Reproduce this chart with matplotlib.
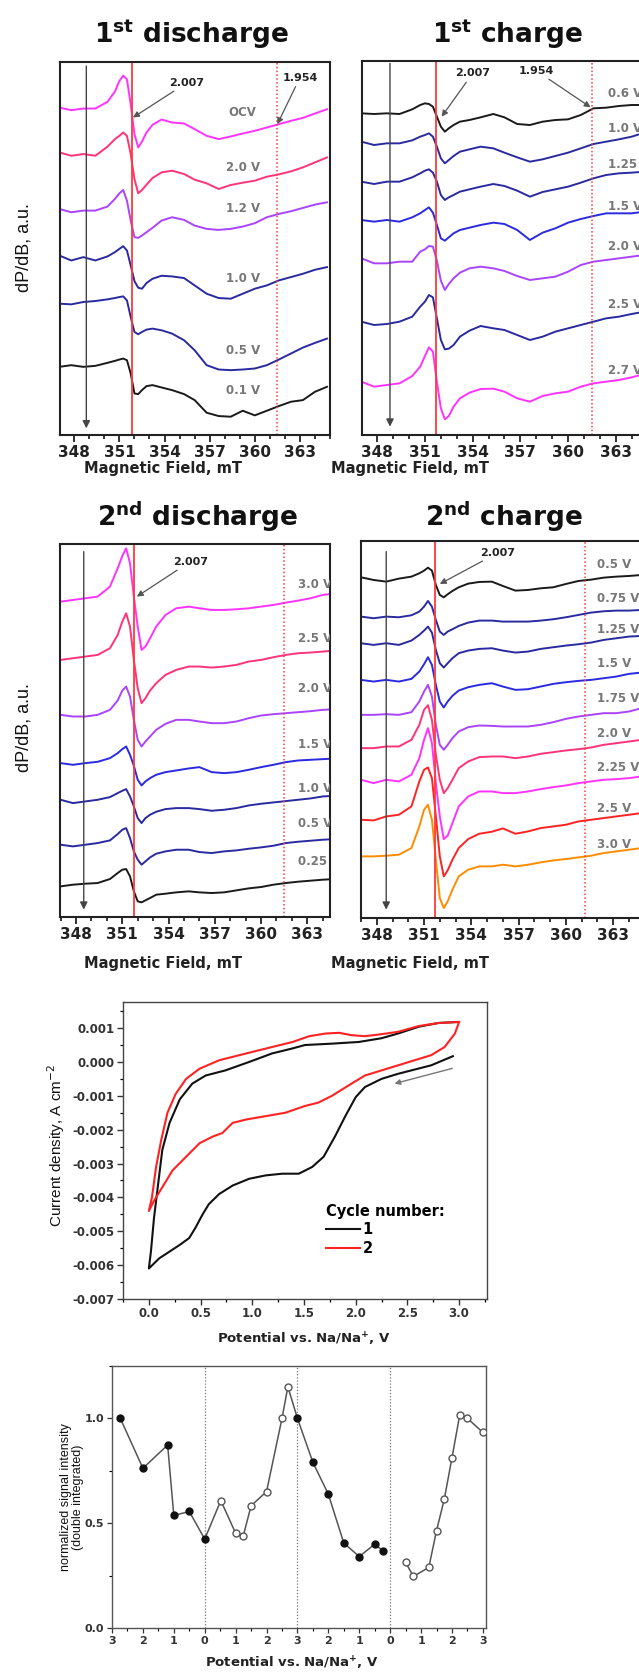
import numpy as np
import matplotlib
matplotlib.use('Agg')
import matplotlib.pyplot as plt
from matplotlib.ticker import MultipleLocator

plt.rcParams['font.family'] = ['DejaVu Sans']
plt.rcParams['axes.unicode_minus'] = False

# ---------------- EPR spectra (magnetic field in mT, dP/dB in a.u.) ----------------
field = [347.0, 347.8, 348.6, 349.4, 350.2, 350.7, 351.0, 351.25, 351.5, 351.75,
         352.0, 352.25, 352.5, 352.8, 353.2, 353.8, 354.5, 355.3, 356.0, 356.8,
         357.6, 358.4, 359.2, 360.0, 360.8, 361.6, 362.4, 363.2, 364.0, 364.8]

# 1st discharge
d1_labels = ['OCV', '2.0 V', '1.2 V', '1.0 V', '0.5 V', '0.1 V']
d1_colors = ['#ff33ff', '#ff3377', '#aa44ff', '#2a2aa0', '#2a2aa0', '#1a1a1a']
d1_curves = [
    [985, 977, 982, 982, 1002, 1033, 1065, 1081, 1070, 995, 905, 865, 883, 910, 933,
     949, 940, 937, 920, 900, 890, 898, 907, 915, 925, 935, 945, 954, 967, 980],
    [850, 840, 845, 840, 867, 890, 900, 910, 900, 845, 770, 727, 737, 753, 773,
     790, 795, 785, 768, 757, 740, 752, 759, 765, 777, 784, 793, 805, 820, 835],
    [680, 670, 675, 675, 687, 710, 727, 737, 705, 645, 595, 593, 600, 610, 623,
     645, 655, 647, 630, 620, 617, 620, 627, 637, 655, 665, 673, 683, 693, 700],
    [540, 525, 535, 525, 537, 550, 560, 568, 555, 510, 463, 443, 440, 457, 470,
     479, 477, 472, 450, 425, 412, 410, 425, 440, 450, 465, 475, 485, 497, 505],
    [395, 393, 400, 403, 408, 412, 415, 417, 405, 355, 310, 303, 310, 317, 320,
     315, 305, 285, 255, 210, 197, 195, 197, 200, 210, 227, 245, 263, 277, 290],
    [205, 210, 205, 208, 217, 223, 227, 230, 225, 185, 125, 123, 135, 147, 150,
     143, 135, 123, 105, 67, 57, 55, 73, 59, 73, 87, 100, 105, 130, 145],
]
d1_label_y = [970, 805, 680, 472, 255, 135]

# 1st charge
c1_labels = ['0.6 V', '1.0 V', '1.25 V', '1.5 V', '2.0 V', '2.5 V', '2.7 V']
c1_colors = ['#1a1a1a', '#2a2aa0', '#2a2aa0', '#2a2ae0', '#aa44ff', '#2a2aa0', '#ff33ff']
c1_curves = [
    [965, 963, 965, 963, 977, 990, 995, 993, 985, 955, 925, 910, 920, 930, 940,
     945, 953, 963, 953, 933, 930, 940, 945, 947, 960, 980, 982, 987, 990, 990],
    [880, 870, 875, 875, 884, 895, 900, 905, 895, 865, 830, 815, 825, 837, 850,
     857, 865, 860, 847, 833, 820, 827, 837, 847, 860, 873, 880, 887, 895, 907],
    [760, 753, 760, 760, 773, 785, 793, 797, 787, 760, 720, 705, 713, 720, 730,
     737, 745, 753, 747, 733, 715, 729, 737, 745, 757, 770, 780, 785, 787, 790],
    [645, 640, 645, 640, 653, 665, 675, 683, 667, 630, 590, 583, 593, 605, 615,
     622, 630, 637, 633, 615, 585, 607, 620, 637, 648, 657, 665, 665, 665, 670],
    [530, 515, 515, 520, 520, 550, 557, 567, 565, 523, 463, 435, 453, 470, 487,
     500, 505, 500, 492, 477, 465, 470, 475, 490, 510, 520, 525, 530, 535, 540],
    [340, 330, 333, 340, 355, 385, 400, 420, 413, 350, 285, 257, 259, 270, 295,
     313, 327, 320, 315, 300, 285, 295, 310, 320, 330, 340, 350, 355, 363, 370],
    [160, 145, 150, 155, 177, 205, 237, 263, 250, 160, 80, 47, 57, 85, 110,
     127, 138, 139, 130, 110, 100, 117, 125, 130, 145, 155, 160, 165, 173, 183],
]
c1_label_y = [1025, 920, 810, 685, 567, 390, 195]

# 2nd discharge
d2_labels = ['3.0 V', '2.5 V', '2.0 V', '1.5 V', '1.0 V', '0.5 V', '0.25 V']
d2_colors = ['#ff33ff', '#ff3377', '#aa44ff', '#2a2ae0', '#2a2aa0', '#2a2aa0', '#1a1a1a']
d2_curves = [
    [947, 952, 957, 962, 992, 1047, 1084, 1107, 1062, 962, 872, 802, 812, 837, 872,
     907, 927, 932, 927, 922, 922, 924, 927, 932, 937, 944, 950, 957, 967, 972],
    [772, 777, 782, 787, 807, 847, 887, 912, 872, 772, 687, 642, 657, 680, 702,
     727, 742, 752, 752, 749, 752, 757, 767, 772, 780, 787, 792, 794, 797, 800],
    [607, 602, 602, 607, 622, 650, 680, 692, 662, 592, 532, 512, 527, 542, 562,
     580, 592, 592, 587, 582, 582, 587, 597, 605, 609, 612, 615, 618, 622, 624],
    [462, 457, 462, 466, 477, 492, 504, 512, 487, 454, 412, 395, 407, 417, 427,
     435, 440, 446, 450, 435, 432, 435, 442, 450, 457, 465, 470, 472, 474, 476],
    [352, 342, 347, 352, 360, 372, 379, 384, 362, 332, 297, 282, 297, 307, 316,
     324, 327, 327, 324, 319, 322, 327, 335, 340, 344, 348, 352, 356, 362, 364],
    [217, 212, 217, 222, 230, 249, 262, 267, 237, 197, 172, 157, 167, 179, 190,
     197, 202, 202, 195, 192, 197, 200, 205, 209, 214, 222, 226, 229, 232, 234],
    [92, 97, 100, 102, 114, 132, 142, 144, 122, 77, 47, 44, 50, 57, 67,
     70, 74, 77, 74, 72, 74, 80, 86, 90, 97, 102, 106, 109, 112, 114],
]
d2_label_y = [997, 837, 687, 517, 387, 280, 167]

# 2nd charge
c2_labels = ['0.5 V', '0.75 V', '1.25 V', '1.5 V', '1.75 V', '2.0 V', '2.25 V', '2.5 V', '3.0 V']
c2_colors = ['#1a1a1a', '#2a2aa0', '#2a2aa0', '#2a2ae0', '#aa44ff', '#ff3377',
             '#ff33ff', '#ff2222', '#ff8c00']
c2_curves = [
    [1023, 1015, 1010, 1019, 1025, 1035, 1043, 1052, 1043, 1000, 970, 963, 972, 982, 993,
     1004, 1009, 1010, 997, 983, 985, 990, 993, 1003, 1012, 1016, 1022, 1025, 1027, 1030],
    [905, 900, 905, 903, 909, 920, 935, 952, 935, 895, 860, 850, 860, 867, 877,
     887, 893, 893, 890, 890, 890, 893, 897, 903, 910, 917, 921, 923, 923, 925],
    [825, 820, 825, 820, 833, 850, 863, 875, 857, 805, 765, 752, 765, 780, 795,
     803, 808, 810, 803, 797, 800, 808, 813, 818, 822, 827, 835, 840, 845, 847],
    [715, 710, 715, 710, 718, 740, 762, 783, 760, 700, 650, 632, 650, 667, 683,
     693, 700, 705, 695, 685, 687, 695, 703, 708, 712, 715, 720, 725, 733, 737],
    [610, 610, 612, 610, 618, 650, 680, 700, 665, 580, 520, 505, 520, 540, 560,
     573, 578, 577, 575, 575, 575, 580, 588, 598, 605, 610, 615, 615, 620, 630],
    [510, 510, 515, 515, 535, 580, 625, 639, 595, 490, 415, 375, 390, 415, 450,
     470, 483, 485, 485, 480, 485, 493, 498, 503, 507, 512, 520, 525, 530, 535],
    [415, 405, 415, 410, 430, 480, 535, 570, 525, 405, 305, 237, 247, 285, 335,
     365, 380, 380, 375, 375, 380, 387, 393, 398, 405, 410, 415, 417, 420, 425],
    [295, 293, 305, 310, 335, 410, 445, 452, 420, 305, 185, 125, 143, 175, 210,
     237, 253, 259, 269, 253, 260, 270, 275, 280, 290, 295, 300, 305, 310, 315],
    [185, 185, 187, 190, 210, 275, 325, 340, 295, 175, 60, 30, 50, 85, 125,
     145, 155, 155, 160, 155, 160, 167, 173, 177, 182, 187, 195, 200, 205, 210],
]
c2_label_y = [1060, 960, 865, 765, 660, 555, 453, 330, 220]

# ---------------- cyclic voltammetry (V, mA cm-2) ----------------
cv1_V = [2.94, 2.73, 2.41, 2.25, 2.09, 2.0, 1.90, 1.80, 1.69, 1.58,
         1.45, 1.29, 1.13, 0.97, 0.81, 0.68, 0.58, 0.52, 0.45, 0.39,
         0.30, 0.20, 0.10, 0.0, 0.02, 0.05, 0.09, 0.13, 0.20, 0.30,
         0.42, 0.55, 0.74, 0.97, 1.19, 1.39, 1.51, 1.77, 2.03, 2.25,
         2.41, 2.61, 2.80, 2.98]
cv1_I = [0.17, -0.10, -0.35, -0.50, -0.74, -1.04, -1.60, -2.20, -2.80, -3.10,
         -3.30, -3.30, -3.35, -3.45, -3.65, -3.90, -4.20, -4.50, -4.90, -5.20,
         -5.40, -5.60, -5.80, -6.10, -5.60, -4.60, -3.60, -2.60, -1.80, -1.10,
         -0.64, -0.40, -0.25, 0.00, 0.25, 0.40, 0.50, 0.54, 0.59, 0.70,
         0.84, 1.04, 1.15, 1.18]
cv2_V = [3.0, 2.96, 2.86, 2.73, 2.57, 2.41, 2.25, 2.09, 1.96, 1.77,
         1.64, 1.51, 1.32, 1.13, 0.94, 0.81, 0.71, 0.62, 0.49, 0.36,
         0.23, 0.13, 0.05, 0.0, 0.03, 0.07, 0.12, 0.18, 0.26, 0.36,
         0.49, 0.68, 0.94, 1.19, 1.39, 1.55, 1.71, 1.84, 1.96, 2.09,
         2.25, 2.41, 2.61, 2.80, 3.0]
cv2_I = [1.18, 0.84, 0.44, 0.20, 0.05, -0.10, -0.25, -0.40, -0.64, -1.00,
         -1.20, -1.30, -1.50, -1.60, -1.70, -1.80, -2.10, -2.20, -2.40, -2.80,
         -3.20, -3.70, -4.10, -4.40, -4.00, -3.10, -2.30, -1.50, -0.94, -0.50,
         -0.20, 0.05, 0.25, 0.44, 0.59, 0.76, 0.84, 0.86, 0.79, 0.76,
         0.82, 0.89, 1.06, 1.15, 1.18]

# ---------------- normalized double-integrated intensity ----------------
dis1_V = [2.73, 2.0, 1.2, 1.0, 0.5, 0.0]
dis1_S = [1.0, 0.762, 0.873, 0.537, 0.556, 0.424]
ch1_V = [0.52, 1.0, 1.25, 1.5, 2.0, 2.5, 2.69]
ch1_S = [0.608, 0.452, 0.441, 0.583, 0.651, 1.0, 1.151]
dis2_V = [3.0, 2.5, 2.0, 1.5, 1.0, 0.5, 0.23]
dis2_S = [1.0, 0.79, 0.638, 0.405, 0.341, 0.4, 0.368]
ch2_V = [0.5, 0.75, 1.25, 1.5, 1.75, 2.0, 2.25, 2.5, 3.0]
ch2_S = [0.313, 0.246, 0.289, 0.465, 0.614, 0.813, 1.016, 1.0, 0.933]
seq_tick_labels = ['3', '2', '1', '0', '1', '2', '3', '2', '1', '0', '1', '2', '3']

W, H = 639, 1672
fig = plt.figure(figsize=(W / 100, H / 100), dpi=100)


def rect(x0, y0, x1, y1):
    return [x0 / W, 1 - y1 / H, (x1 - x0) / W, (y1 - y0) / H]


def epr_panel(box, xlim, ylim, curves, colors, labels, label_y, label_x, label_ha,
              red_x, dot_x, arrow_x, arrow_y, notes):
    ax = fig.add_axes(rect(*box))
    for y, c in zip(curves, colors):
        ax.plot(field, y, color=c, lw=1.4)
    ax.axvline(red_x, color='#ff3a3a', lw=1.3)
    ax.axvline(dot_x, color='#ff3a3a', lw=1.1, ls=(0, (1, 1.5)))
    ax.annotate('', xy=(arrow_x, arrow_y[1]), xytext=(arrow_x, arrow_y[0]),
                arrowprops=dict(arrowstyle='-|>', color='#444444', lw=1.0,
                                mutation_scale=11, shrinkA=0, shrinkB=0))
    for lab, ly in zip(labels, label_y):
        ax.text(label_x, ly, lab, ha=label_ha, va='center', fontsize=8.5,
                color='#777777', fontweight='bold', clip_on=True)
    for txt, tip, pos in notes:
        ax.annotate(txt, xy=tip, xytext=pos, ha='center', va='center',
                    fontsize=8, fontweight='bold', color='#222222',
                    arrowprops=dict(arrowstyle='-|>', color='#555555', lw=0.9,
                                    mutation_scale=9, shrinkA=1, shrinkB=0))
    ax.set_xlim(*xlim)
    ax.set_ylim(*ylim)
    ax.set_yticks([])
    ax.set_xticks(np.arange(348, 366, 3))
    ax.xaxis.set_minor_locator(MultipleLocator(1))
    ax.tick_params(axis='x', which='major', direction='out', length=5, width=1.3,
                   labelsize=11, pad=2, colors='#222222')
    ax.tick_params(axis='x', which='minor', direction='out', length=3, width=1.1)
    for lab in ax.get_xticklabels():
        lab.set_fontweight('bold')
    for s in ax.spines.values():
        s.set_linewidth(1.5)
        s.set_color('#222222')
    return ax


epr_panel((60, 62, 330, 435), (347.05, 365.0), (0, 1122), d1_curves, d1_colors,
          d1_labels, d1_label_y, 359.2, 'center', 351.82, 361.45, 348.8, (1110, 20),
          [('2.007', (351.9, 955), (355.5, 1060)), ('1.954', (361.5, 935), (363.0, 1075))])
epr_panel((362, 61, 652, 435), (347.04, 365.28), (0, 1122), c1_curves, c1_colors,
          c1_labels, c1_label_y, 362.5, 'left', 351.7, 361.5, 348.8, (1115, 25),
          [('2.007', (352.05, 955), (354.0, 1085)), ('1.954', (361.42, 983), (358.0, 1093))])
epr_panel((60, 544, 330, 917), (346.96, 364.47), (0, 1120), d2_curves, d2_colors,
          d2_labels, d2_label_y, 362.4, 'left', 351.76, 361.5, 348.5, (1097, 22),
          [('2.007', (351.94, 962), (355.4, 1067))])
epr_panel((361, 541, 651, 918), (347.0, 365.4), (0, 1132), c2_curves, c2_colors,
          c2_labels, c2_label_y, 362.0, 'left', 351.7, 361.2, 348.6, (1100, 25),
          [('2.007', (352.0, 1003), (355.7, 1097))])

title_kw = dict(ha='center', va='center', fontsize=19, fontweight='bold', color='#111111')
fig.text(191 / W, 1 - 34 / H, r'1$^{\mathbf{st}}$ discharge', **title_kw)
fig.text(508 / W, 1 - 34 / H, r'1$^{\mathbf{st}}$ charge', **title_kw)
fig.text(198 / W, 1 - 517 / H, r'2$^{\mathbf{nd}}$ discharge', **title_kw)
fig.text(504 / W, 1 - 517 / H, r'2$^{\mathbf{nd}}$ charge', **title_kw)

xl_kw = dict(ha='center', va='center', fontsize=10.5, fontweight='bold', color='#222222')
for xc, yc in [(163, 469), (410, 469), (163, 963), (410, 963)]:
    fig.text(xc / W, 1 - yc / H, 'Magnetic Field, mT', **xl_kw)
for yc in (248, 728):
    fig.text(24 / W, 1 - yc / H, 'dP/dB, a.u.', rotation=90, ha='center', va='center',
             fontsize=13, family=['Liberation Sans', 'DejaVu Sans'], color='#111111')

# ---------------- CV panel ----------------
ax = fig.add_axes(rect(123, 1002, 487, 1299))
ax.plot(cv1_V, np.array(cv1_I) * 1e-3, color='#111111', lw=1.5, label='1')
ax.plot(cv2_V, np.array(cv2_I) * 1e-3, color='#ff2222', lw=1.5, label='2')
ax.annotate('', xy=(2.35, -0.00066), xytext=(2.96, -0.00017),
            arrowprops=dict(arrowstyle='-|>', color='#777777', lw=1.0, mutation_scale=8))
ax.set_xlim(-0.25, 3.27)
ax.set_ylim(-0.007, 0.00177)
ax.set_xticks(np.arange(0, 3.01, 0.5))
ax.set_yticks(np.arange(-0.007, 0.0011, 0.001))
ax.xaxis.set_minor_locator(MultipleLocator(0.25))
ax.yaxis.set_minor_locator(MultipleLocator(0.0005))
ax.xaxis.set_major_formatter(plt.FormatStrFormatter('%.1f'))
ax.yaxis.set_major_formatter(plt.FormatStrFormatter('%.3f'))
ax.tick_params(which='major', direction='out', length=4, width=1, labelsize=8.5,
               colors='#333333', pad=2)
ax.tick_params(which='minor', direction='out', length=2.5, width=0.9)
for lab in ax.get_xticklabels() + ax.get_yticklabels():
    lab.set_fontweight('bold')
for s in ax.spines.values():
    s.set_linewidth(1.0)
    s.set_color('#444444')
leg = ax.legend(title='Cycle number:', loc='upper left', bbox_to_anchor=(0.53, 0.355),
                frameon=False, alignment='left', handlelength=2.3, handletextpad=0.2,
                borderpad=0.2, labelspacing=0.25, prop={'size': 10.5, 'weight': 'bold'})
leg.get_title().set_fontsize(10.5)
leg.get_title().set_fontweight('bold')
fig.text(304 / W, 1 - 1339 / H, r'Potential vs. Na/Na$^{\mathbf{+}}$, V', ha='center', va='center',
         fontsize=9.5, fontweight='bold', color='#222222')
fig.text(56 / W, 1 - 1145 / H, r'Current density, A cm$^{-2}$', rotation=90, ha='center',
         va='center', fontsize=11, family=['Liberation Sans', 'DejaVu Sans'], color='#111111')

# ---------------- intensity panel ----------------
ax = fig.add_axes(rect(112, 1366, 486, 1628))
u1 = [3 - v for v in dis1_V]
u2 = [3 + v for v in ch1_V]
u3 = [6 + 3 - v for v in dis2_V]
u4 = [9 + v for v in ch2_V]
ax.plot(u1 + u2 + u3, dis1_S + ch1_S + dis2_S, color='#555555', lw=1.1, zorder=2)
ax.plot(u4, ch2_S, color='#555555', lw=1.1, zorder=2)
ax.plot(u1 + u3, dis1_S + dis2_S, 'o', ms=5, mfc='#111111', mec='#111111', zorder=3)
ax.plot(u2 + u4, ch1_S + ch2_S, 'o', ms=5, mfc='white', mec='#555555', mew=1.0, zorder=3)
for xv in (3, 6, 9):
    ax.axvline(xv, color='#777777', lw=0.9, ls=(0, (1, 1.5)), zorder=1)
ax.set_xlim(0, 12.1)
ax.set_ylim(0, 1.25)
ax.set_xticks(range(13))
ax.set_xticklabels(seq_tick_labels)
ax.xaxis.set_minor_locator(MultipleLocator(0.5))
ax.set_yticks([0.0, 0.5, 1.0])
ax.yaxis.set_minor_locator(MultipleLocator(0.25))
ax.yaxis.set_major_formatter(plt.FormatStrFormatter('%.1f'))
ax.tick_params(which='major', direction='out', length=3.5, width=0.9, labelsize=8,
               colors='#333333', pad=2)
ax.tick_params(which='minor', direction='out', length=2, width=0.8)
for lab in ax.get_xticklabels() + ax.get_yticklabels():
    lab.set_fontweight('bold')
for s in ax.spines.values():
    s.set_linewidth(1.0)
    s.set_color('#555555')
fig.text(292 / W, 1 - 1663 / H, r'Potential vs. Na/Na$^{\mathbf{+}}$, V', ha='center', va='center',
         fontsize=9.5, fontweight='bold', color='#222222')
fig.text(72 / W, 1 - 1497 / H, 'normalized signal intensity\n(double integrated)', rotation=90,
         ha='center', va='center', fontsize=9, linespacing=1.1,
         family=['Liberation Sans', 'DejaVu Sans'], color='#111111')

fig.savefig('out.png', dpi=100)
